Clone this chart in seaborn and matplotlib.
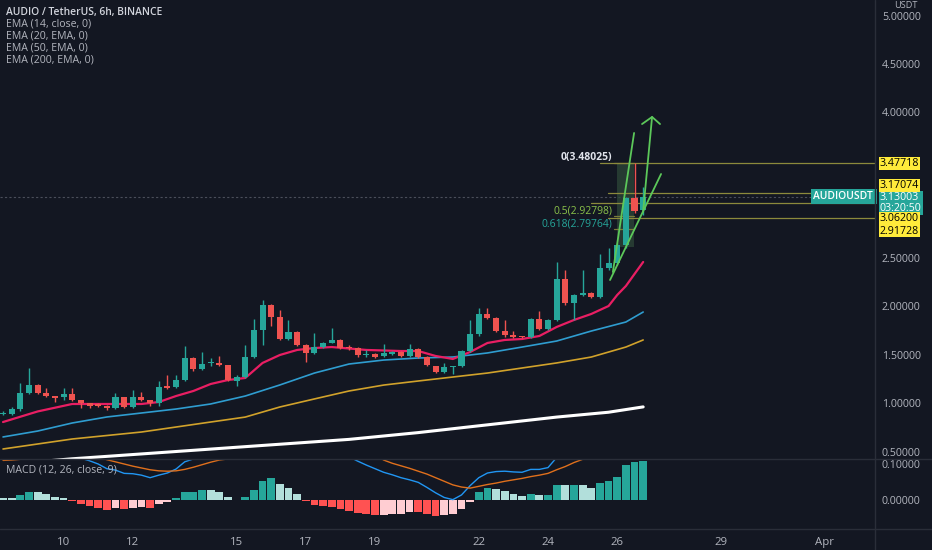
import matplotlib
matplotlib.use("Agg")
import matplotlib.pyplot as plt
from matplotlib.lines import Line2D
import numpy as np
import seaborn as sns

# 6h candles, index 0 = Mar 8 06:00
opens = [0.892, 0.892, 0.943, 1.108, 1.191, 1.108, 1.077, 1.067, 1.098, 1.036,
         1.005, 0.995, 0.974, 0.954, 1.067, 0.964, 1.067, 1.036, 1.005, 1.180,
         1.170, 1.242, 1.469, 1.356, 1.418, 1.418, 1.397, 1.232, 1.273, 1.479,
         1.758, 2.015, 1.892, 1.665, 1.737, 1.603, 1.521, 1.582, 1.624, 1.655,
         1.582, 1.572, 1.500, 1.510, 1.490, 1.510, 1.531, 1.490, 1.562, 1.479,
         1.387, 1.325, 1.376, 1.387, 1.541, 1.716, 1.923, 1.881, 1.747, 1.706,
         1.696, 1.686, 1.871, 1.768, 1.861, 2.284, 2.036, 2.119, 2.139, 2.098,
         2.397, 2.448, 2.634, 3.119, 2.995]
highs = [0.923, 0.960, 1.211, 1.366, 1.200, 1.160, 1.080, 1.160, 1.160, 1.040,
         1.010, 1.000, 0.980, 1.108, 1.070, 1.139, 1.119, 1.040, 1.232, 1.294,
         1.294, 1.593, 1.480, 1.531, 1.469, 1.490, 1.400, 1.294, 1.603, 1.871,
         2.067, 2.030, 1.964, 1.861, 1.750, 1.610, 1.727, 1.630, 1.778, 1.660,
         1.603, 1.580, 1.552, 1.520, 1.613, 1.540, 1.540, 1.613, 1.570, 1.490,
         1.390, 1.418, 1.390, 1.550, 1.861, 1.985, 1.985, 1.890, 1.861, 1.747,
         1.700, 1.880, 1.954, 1.870, 2.459, 2.376, 2.130, 2.376, 2.150, 2.541,
         2.603, 2.650, 3.130, 3.480, 3.232]
lows = [0.881, 0.880, 0.923, 1.100, 1.100, 1.070, 1.015, 1.036, 1.030, 0.954,
        0.954, 0.965, 0.933, 0.945, 0.955, 0.955, 1.030, 0.974, 0.974, 1.150,
        1.160, 1.230, 1.340, 1.350, 1.387, 1.390, 1.230, 1.180, 1.260, 1.470,
        1.603, 1.799, 1.650, 1.650, 1.590, 1.428, 1.510, 1.570, 1.620, 1.560,
        1.552, 1.479, 1.479, 1.470, 1.480, 1.500, 1.480, 1.480, 1.470, 1.390,
        1.310, 1.315, 1.304, 1.380, 1.530, 1.700, 1.870, 1.740, 1.690, 1.680,
        1.676, 1.680, 1.760, 1.760, 1.850, 2.020, 1.861, 2.110, 2.090, 2.090,
        2.380, 2.430, 2.600, 2.964, 2.943]
closes = [0.902, 0.943, 1.108, 1.191, 1.108, 1.077, 1.057, 1.098, 1.036, 1.005,
          0.974, 0.974, 0.954, 1.067, 0.964, 1.067, 1.036, 1.005, 1.170, 1.160,
          1.242, 1.469, 1.356, 1.407, 1.428, 1.397, 1.242, 1.273, 1.479, 1.758,
          2.015, 1.892, 1.665, 1.737, 1.603, 1.521, 1.582, 1.624, 1.655, 1.572,
          1.572, 1.500, 1.510, 1.479, 1.521, 1.531, 1.490, 1.562, 1.479, 1.397,
          1.325, 1.376, 1.387, 1.541, 1.716, 1.923, 1.881, 1.747, 1.706, 1.686,
          1.686, 1.871, 1.768, 1.861, 2.284, 2.036, 2.119, 2.139, 2.098, 2.397,
          2.448, 2.634, 3.119, 2.985, 3.130]

# EMA lines at some candle indices
ema14_idx = [0, 4, 8, 12, 16, 18, 20, 22, 24, 26, 28, 30, 32, 34, 36, 38, 42, 46,
             48, 50, 52, 54, 56, 58, 60, 62, 64, 66, 68, 70, 71, 72, 74]
ema14_val = [0.809, 0.918, 0.995, 0.995, 0.995, 1.015, 1.077, 1.129, 1.201, 1.242,
             1.263, 1.418, 1.500, 1.552, 1.572, 1.582, 1.552, 1.541, 1.541, 1.490,
             1.459, 1.531, 1.624, 1.655, 1.665, 1.696, 1.789, 1.861, 1.923, 2.005,
             2.119, 2.211, 2.459]
ema20_idx = [0, 4, 8, 12, 16, 20, 24, 28, 32, 36, 40, 44, 48, 52, 56, 60, 64, 68, 72, 74]
ema20_val = [0.655, 0.716, 0.799, 0.861, 0.902, 0.943, 0.995, 1.077, 1.191, 1.314,
             1.407, 1.448, 1.469, 1.479, 1.521, 1.582, 1.644, 1.747, 1.840, 1.943]
ema50_idx = [0, 8, 16, 24, 28, 32, 36, 40, 44, 48, 52, 56, 60, 64, 68, 72, 74]
ema50_val = [0.531, 0.634, 0.706, 0.809, 0.860, 0.964, 1.047, 1.129, 1.190, 1.232,
             1.273, 1.314, 1.366, 1.418, 1.479, 1.582, 1.655]
ema200_idx = [0, 8, 16, 24, 32, 40, 48, 56, 64, 70, 74]
ema200_val = [0.37, 0.43, 0.48, 0.53, 0.58, 0.63, 0.70, 0.78, 0.86, 0.91, 0.965]

# MACD (12, 26, close, 9)
macd_line = [0.117, 0.117, 0.127, 0.141, 0.144, 0.143, 0.138, 0.135, 0.126, 0.116,
             0.109, 0.100, 0.087, 0.083, 0.074, 0.073, 0.069, 0.062, 0.069, 0.075,
             0.086, 0.106, 0.114, 0.126, 0.132, 0.134, 0.123, 0.116, 0.124, 0.152,
             0.191, 0.212, 0.207, 0.206, 0.193, 0.174, 0.158, 0.150, 0.144, 0.132,
             0.120, 0.108, 0.097, 0.087, 0.077, 0.070, 0.062, 0.056, 0.049, 0.035,
             0.020, 0.007, 0.001, 0.014, 0.040, 0.062, 0.075, 0.079, 0.080, 0.078,
             0.077, 0.085, 0.085, 0.090, 0.118, 0.135, 0.147, 0.155, 0.154, 0.175,
             0.190, 0.215, 0.268, 0.295, 0.319]
signal_line = [0.110, 0.111, 0.113, 0.118, 0.123, 0.127, 0.129, 0.130, 0.129, 0.128,
               0.125, 0.119, 0.112, 0.106, 0.100, 0.094, 0.089, 0.084, 0.081, 0.080,
               0.081, 0.085, 0.091, 0.098, 0.105, 0.111, 0.114, 0.115, 0.117, 0.124,
               0.137, 0.152, 0.163, 0.172, 0.176, 0.176, 0.172, 0.168, 0.163, 0.157,
               0.150, 0.143, 0.135, 0.126, 0.111, 0.102, 0.095, 0.088, 0.080, 0.072,
               0.062, 0.052, 0.042, 0.036, 0.033, 0.038, 0.043, 0.047, 0.052, 0.056,
               0.060, 0.065, 0.069, 0.074, 0.084, 0.093, 0.104, 0.113, 0.120, 0.128,
               0.138, 0.150, 0.170, 0.190, 0.210]
macd_hist = [0.0065, 0.0055, 0.014, 0.023, 0.021, 0.016, 0.009, 0.005, -0.003, -0.011,
             -0.018, -0.023, -0.028, -0.023, -0.026, -0.021, -0.020, -0.022, -0.012, -0.005,
             0.005, 0.021, 0.023, 0.028, 0.027, 0.023, 0.009, 0.001, 0.007, 0.028,
             0.054, 0.060, 0.044, 0.034, 0.017, -0.002, -0.014, -0.018, -0.019, -0.025,
             -0.030, -0.036, -0.040, -0.043, -0.041, -0.040, -0.039, -0.032, -0.033, -0.039,
             -0.044, -0.042, -0.040, -0.025, -0.005, 0.021, 0.033, 0.031, 0.024, 0.017,
             0.010, 0.017, 0.013, 0.015, 0.043, 0.042, 0.043, 0.042, 0.034, 0.047,
             0.052, 0.065, 0.098, 0.105, 0.109]

day_labels = ["10", "12", "15", "17", "19", "22", "24", "26", "29", "Apr"]
day_idx = [7, 15, 27, 35, 43, 55, 63, 71, 83, 95]

# drawings on the chart
hlevels = [3.47718, 3.17074, 3.06200, 2.91728]
hlevel_start = [69.0, 69.9, 68.0, 69.9]
hlabel_shift = [0, 5.4, -11.0, -9.8]   # points, labels pushed apart on the scale
fib_levels = [3.48025, 2.92798, 2.79764]
fib_names = ["0(3.48025)", "0.5(2.92798)", "0.618(2.79764)"]
fib_colors = ["#e0e3eb", "#8bc34a", "#26a69a"]
last_price = 3.13003
trend_lines = [([70.5, 72.95], [2.356, 3.789]),
               ([73.99, 75.03], [2.974, 3.954]),
               ([70.17, 76.07], [2.273, 3.366])]
arrow_head = ([73.87, 75.03, 75.95], [3.881, 3.954, 3.881])

BG = "#131722"
TXT = "#b2b5be"
UP, DN = "#26a69a", "#ef5350"
SCALE_FS = 7.7

sns.set_style("dark", {"axes.facecolor": BG, "figure.facecolor": BG})
plt.rcParams["font.family"] = ["Open Sans", "DejaVu Sans"]

fig = plt.figure(figsize=(9.32, 5.5), dpi=100)
W, H = 932, 550
ax = fig.add_axes([0, 1 - 459 / H, 875 / W, 459 / H])
axm = fig.add_axes([0, 1 - 529 / H, 875 / W, 70 / H])
xlim = (-0.35, 100.8)

# candles
idx = np.arange(len(opens))
o, h, l, c = map(np.array, (opens, highs, lows, closes))
cols = np.where(c >= o, UP, DN)
ax.vlines(idx, l, h, colors=cols, linewidth=1, zorder=3)
body = np.maximum(np.abs(c - o), 0.01)
ax.bar(idx, body, bottom=np.minimum(o, c), width=0.7, color=cols,
       edgecolor="none", linewidth=0, zorder=4)

# EMAs
sns.lineplot(x=ema200_idx, y=ema200_val, ax=ax, color="white", linewidth=2.2, zorder=2)
sns.lineplot(x=ema50_idx, y=ema50_val, ax=ax, color="#d1a22b", linewidth=1.2, zorder=2)
sns.lineplot(x=ema20_idx, y=ema20_val, ax=ax, color="#2f9dd0", linewidth=1.2, zorder=2)
sns.lineplot(x=ema14_idx, y=ema14_val, ax=ax, color="#e91e63", linewidth=1.6, zorder=2)

# last price line
ax.axhline(last_price, color="#4a4e5a", linewidth=0.8, linestyle=(0, (2, 2)), zorder=1)

# fib box and labels
ax.fill_between([71.0, 72.95], 2.613, fib_levels[0], color="#2f4a3a", alpha=0.7,
                linewidth=0, zorder=1)
for lv, name, col in zip(fib_levels, fib_names, fib_colors):
    ax.plot([70.6, 72.95], [lv, lv], color="#7a7c3a", linewidth=0.9, zorder=2)
    ax.text(70.4, lv, name, color=col, fontsize=7.5, ha="right", va="bottom",
            fontweight="bold" if lv == fib_levels[0] else "normal", zorder=6)

# horizontal rays
for lv, x0 in zip(hlevels, hlevel_start):
    ax.plot([x0, xlim[1]], [lv, lv], color="#8c8a3c", linewidth=0.9, zorder=2)

# trend lines and arrow
for xs, ys in trend_lines:
    ax.plot(xs, ys, color="#5cc85a", linewidth=1.3, zorder=7)
ax.plot(arrow_head[0], arrow_head[1], color="#5cc85a", linewidth=1.3, zorder=7)

# last price labels
ax.text(1.0, last_price, "AUDIOUSDT ", transform=ax.get_yaxis_transform(),
        ha="right", va="center", fontsize=7.4, color="white", fontweight="semibold",
        bbox=dict(boxstyle="square,pad=0.2", fc=UP, ec="none"), zorder=8)
ax.annotate(f"{last_price:.5f}\n03:20:50", xy=(1.0, last_price),
            xycoords=("axes fraction", "data"), xytext=(3.5, 3.2),
            textcoords="offset points", fontsize=SCALE_FS, color="white", va="top",
            ha="left", annotation_clip=False, linespacing=0.9, zorder=8,
            bbox=dict(boxstyle="square,pad=0.1", fc=UP, ec="none"))

# ray labels on the price scale (drawn above the last price box)
for lv, sh in zip(hlevels, hlabel_shift):
    ax.annotate(f"{lv:.5f}", xy=(1.0, lv), xycoords=("axes fraction", "data"),
                xytext=(3.5, sh), textcoords="offset points", fontsize=SCALE_FS,
                color="black", va="center", ha="left", annotation_clip=False, zorder=9,
                bbox=dict(boxstyle="square,pad=0.08", fc="#ffeb3b", ec="none"))

ax.set_xlim(*xlim)
ax.set_ylim(0.4278, 5.1598)
ax.yaxis.tick_right()
ticks = [0.5, 1.0, 1.5, 2.0, 2.5, 4.0, 4.5, 5.0]
ax.set_yticks(ticks)
ax.set_yticklabels([f"{v:.5f}" for v in ticks])
ax.tick_params(axis="y", length=0, pad=5, labelsize=SCALE_FS, labelcolor=TXT)
ax.set_xticks([])
ax.set_xlabel("")
ax.set_ylabel("")

# MACD pane
hist = np.array(macd_hist)
prev = np.concatenate([[hist[0] + 0.001], hist[:-1]])
hcols = np.where(hist >= 0, np.where(hist > prev, "#26a69a", "#b2dfdb"),
                 np.where(hist < prev, "#ff5252", "#ffcdd2"))
axm.bar(idx, hist, width=0.9, color=hcols, edgecolor="none", linewidth=0, zorder=2)
sns.lineplot(x=idx, y=macd_line, ax=axm, color="#2196f3", linewidth=1.0, zorder=3)
sns.lineplot(x=idx, y=signal_line, ax=axm, color="#e0701c", linewidth=1.0, zorder=3)
axm.set_xlim(*xlim)
axm.set_ylim(-0.0806, 0.1139)
axm.yaxis.tick_right()
axm.set_yticks([0.0, 0.1])
axm.set_yticklabels(["0.00000", "0.10000"])
axm.tick_params(axis="y", length=0, pad=5, labelsize=SCALE_FS, labelcolor=TXT)
axm.set_xticks(day_idx)
axm.set_xticklabels(day_labels)
axm.tick_params(axis="x", length=0, pad=6, labelsize=8.2, labelcolor=TXT)
axm.set_xlabel("")
axm.set_ylabel("")

for a in (ax, axm):
    for s in a.spines.values():
        s.set_visible(False)
    a.grid(False)

# pane separators
for y in (459, 529):
    fig.add_artist(Line2D([0, 1], [1 - y / H, 1 - y / H], color="#2a2e39", linewidth=1))
fig.add_artist(Line2D([875 / W, 875 / W], [0, 1], color="#2a2e39", linewidth=1))

# legends
fig.text(6 / W, 1 - 12 / H, "AUDIO / TetherUS, 6h, BINANCE", color="#d1d4dc",
         fontsize=7.4, va="center", fontweight="semibold")
for k, s in enumerate(["EMA (14, close, 0)", "EMA (20, EMA, 0)", "EMA (50, EMA, 0)",
                       "EMA (200, EMA, 0)"]):
    fig.text(6 / W, 1 - (24 + 12 * k) / H, s, color=TXT, fontsize=7.6, va="center")
fig.text(6 / W, 1 - 470 / H, "MACD (12, 26, close, 9)", color=TXT, fontsize=7.6, va="center")
fig.text(906 / W, 1 - 6 / H, "USDT", color=TXT, fontsize=6.6, va="center", ha="center")

fig.savefig("out.png", dpi=100, facecolor=BG)
